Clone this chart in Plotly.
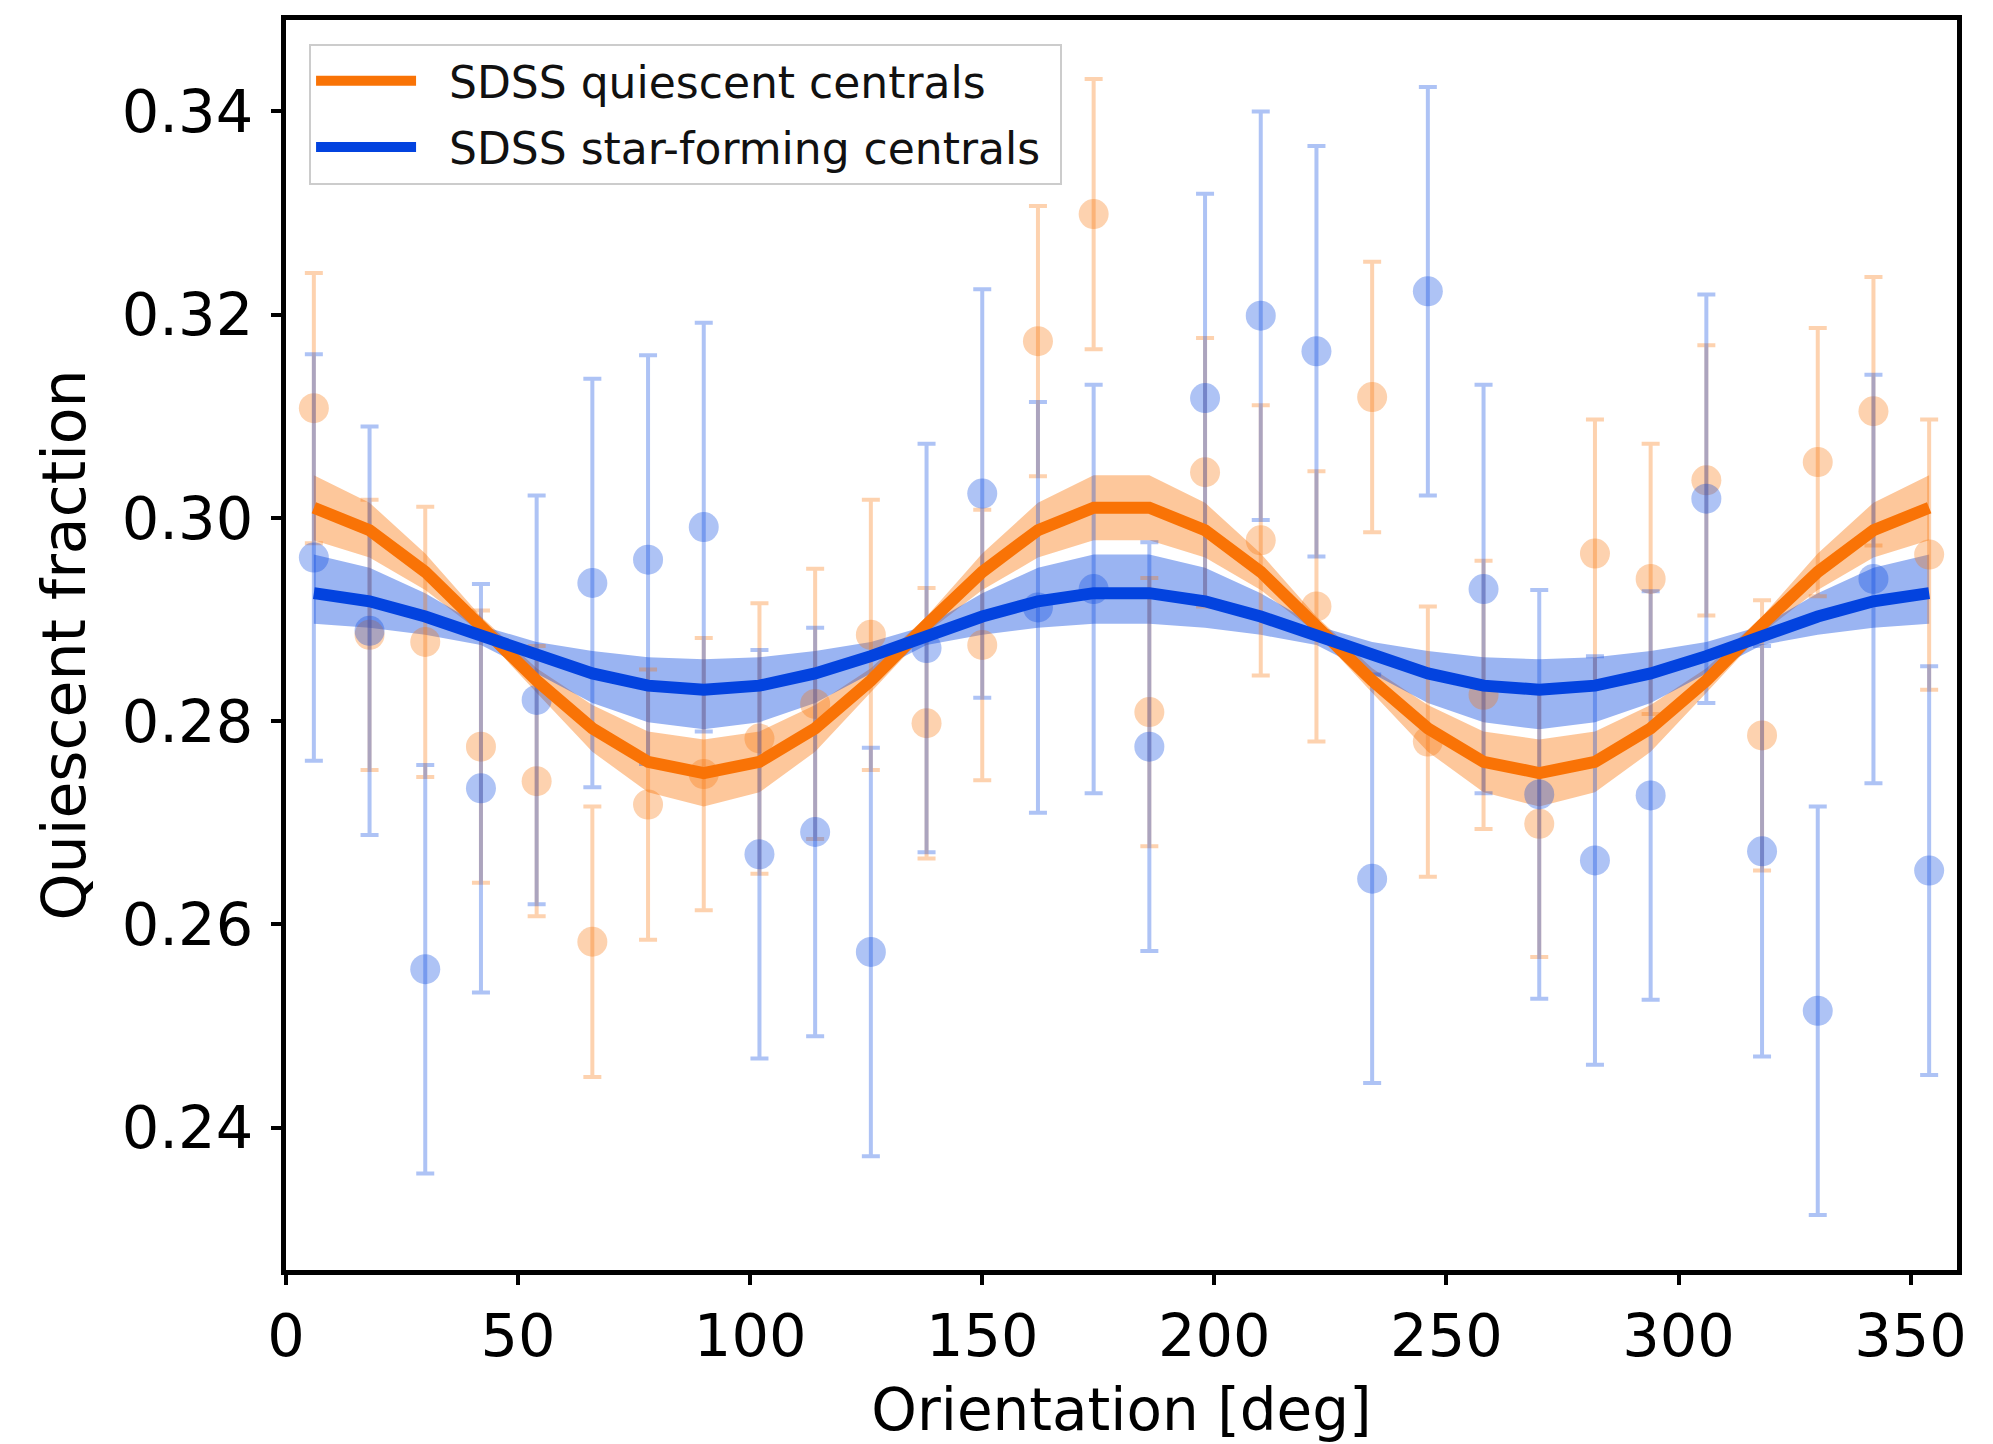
import plotly.graph_objects as go

# ---------------- data ----------------
orientation = [6, 18, 30, 42, 54, 66, 78, 90, 102, 114, 126, 138, 150, 162, 174,
               186, 198, 210, 222, 234, 246, 258, 270, 282, 294, 306, 318, 330, 342, 354]

q_frac = [0.3108, 0.2885, 0.2878, 0.2775, 0.2741, 0.2583, 0.2718, 0.2748, 0.2783, 0.2817,
          0.2885, 0.2798, 0.2875, 0.3174, 0.3299, 0.2809, 0.3045, 0.2978, 0.2913, 0.3119,
          0.2780, 0.2826, 0.2699, 0.2965, 0.2940, 0.3037, 0.2786, 0.3055, 0.3105, 0.2964]
q_err = [0.0133, 0.0133, 0.0133, 0.0134, 0.0133, 0.0133, 0.0133, 0.0134, 0.0133, 0.0133,
         0.0133, 0.0133, 0.0133, 0.0133, 0.0133, 0.0132, 0.0132, 0.0133, 0.0133, 0.0133,
         0.0133, 0.0132, 0.0131, 0.0132, 0.0133, 0.0133, 0.0133, 0.0132, 0.0132, 0.0133]

sf_frac = [0.2961, 0.2889, 0.2556, 0.2734, 0.2821, 0.2936, 0.2959, 0.2991, 0.2669, 0.2691,
           0.2573, 0.2872, 0.3024, 0.2912, 0.2930, 0.2775, 0.3118, 0.3199, 0.3164, 0.2645,
           0.3223, 0.2930, 0.2728, 0.2663, 0.2727, 0.3019, 0.2672, 0.2515, 0.2940, 0.2653]
sf_err = [0.0200, 0.0201, 0.0201, 0.0201, 0.0201, 0.0201, 0.0201, 0.0201, 0.0201, 0.0201,
          0.0201, 0.0201, 0.0201, 0.0202, 0.0201, 0.0201, 0.0201, 0.0201, 0.0202, 0.0201,
          0.0201, 0.0201, 0.0201, 0.0201, 0.0201, 0.0201, 0.0202, 0.0201, 0.0201, 0.0201]

# fitted model curves and their uncertainty bands
q_fit = [0.3010, 0.2988, 0.2947, 0.2895, 0.2840, 0.2793, 0.2760, 0.2749, 0.2760, 0.2793,
         0.2840, 0.2895, 0.2947, 0.2988, 0.3010, 0.3010, 0.2988, 0.2947, 0.2895, 0.2840,
         0.2793, 0.2760, 0.2749, 0.2760, 0.2793, 0.2840, 0.2895, 0.2947, 0.2988, 0.3010]
q_hi = [0.3042, 0.3015, 0.2965, 0.2903, 0.2852, 0.2816, 0.2790, 0.2782, 0.2790, 0.2816,
        0.2852, 0.2903, 0.2965, 0.3015, 0.3042, 0.3042, 0.3015, 0.2965, 0.2903, 0.2852,
        0.2816, 0.2790, 0.2782, 0.2790, 0.2816, 0.2852, 0.2903, 0.2965, 0.3015, 0.3042]
q_lo = [0.2978, 0.2961, 0.2929, 0.2887, 0.2828, 0.2770, 0.2730, 0.2716, 0.2730, 0.2770,
        0.2828, 0.2887, 0.2929, 0.2961, 0.2978, 0.2978, 0.2961, 0.2929, 0.2887, 0.2828,
        0.2770, 0.2730, 0.2716, 0.2730, 0.2770, 0.2828, 0.2887, 0.2929, 0.2961, 0.2978]

sf_fit = [0.2926, 0.2918, 0.2903, 0.2884, 0.2864, 0.2847, 0.2835, 0.2831, 0.2835, 0.2847,
          0.2864, 0.2884, 0.2903, 0.2918, 0.2926, 0.2926, 0.2918, 0.2903, 0.2884, 0.2864,
          0.2847, 0.2835, 0.2831, 0.2835, 0.2847, 0.2864, 0.2884, 0.2903, 0.2918, 0.2926]
sf_hi = [0.2964, 0.2951, 0.2926, 0.2894, 0.2878, 0.2869, 0.2863, 0.2861, 0.2863, 0.2869,
         0.2878, 0.2894, 0.2926, 0.2951, 0.2964, 0.2964, 0.2951, 0.2926, 0.2894, 0.2878,
         0.2869, 0.2863, 0.2861, 0.2863, 0.2869, 0.2878, 0.2894, 0.2926, 0.2951, 0.2964]
sf_lo = [0.2896, 0.2892, 0.2885, 0.2875, 0.2847, 0.2818, 0.2799, 0.2792, 0.2799, 0.2818,
         0.2847, 0.2875, 0.2885, 0.2892, 0.2896, 0.2896, 0.2892, 0.2885, 0.2875, 0.2847,
         0.2818, 0.2799, 0.2792, 0.2799, 0.2818, 0.2847, 0.2875, 0.2885, 0.2892, 0.2896]

x_ticks = [0, 50, 100, 150, 200, 250, 300, 350]
y_ticks = [0.24, 0.26, 0.28, 0.30, 0.32, 0.34]

labels = ["SDSS quiescent centrals", "SDSS star-forming centrals"]

# ---------------- style ----------------
ORANGE = "#f97306"
BLUE = "#0343df"
FONT = "DejaVu Sans"
GAP = "\u00a0\u00a0"

def rgba(hex_color, a):
    h = hex_color.lstrip("#")
    return "rgba(%d,%d,%d,%.3f)" % (int(h[0:2], 16), int(h[2:4], 16), int(h[4:6], 16), a)

fig = go.Figure()

# bands
for lo, hi, col in [(q_lo, q_hi, ORANGE), (sf_lo, sf_hi, BLUE)]:
    fig.add_trace(go.Scatter(
        x=orientation + orientation[::-1],
        y=hi + lo[::-1],
        fill="toself", fillcolor=rgba(col, 0.40),
        line=dict(width=0), mode="lines", showlegend=False, hoverinfo="skip"))

# data points with error bars
for vals, errs, col in [(q_frac, q_err, ORANGE), (sf_frac, sf_err, BLUE)]:
    fig.add_trace(go.Scatter(
        x=orientation, y=vals, mode="markers",
        marker=dict(size=30, color=rgba(col, 0.32), line=dict(width=0)),
        error_y=dict(type="data", array=errs, visible=True,
                     color=rgba(col, 0.32), thickness=4, width=9),
        showlegend=False))

# fitted curves
for fit, col, name, grp in [(q_fit, ORANGE, labels[0], "q"), (sf_fit, BLUE, labels[1], "sf")]:
    fig.add_trace(go.Scatter(
        x=orientation, y=fit, mode="lines", name=GAP + name + "\u00a0", legendgroup=grp,
        line=dict(color=col, width=12)))

axis_common = dict(
    showline=True, linecolor="black", linewidth=5, mirror=True,
    ticks="outside", ticklen=10, tickwidth=4, tickcolor="black",
    showgrid=False, zeroline=False,
    tickfont=dict(family=FONT, size=59, color="black"),
)

fig.update_xaxes(range=[0, 360], tickvals=x_ticks, ticktext=[str(v) for v in x_ticks],
                 title=dict(text="Orientation [deg]", font=dict(family=FONT, size=58, color="black"),
                            standoff=22),
                 ticklabelstandoff=0, **axis_common)
fig.update_yaxes(range=[0.2260, 0.3490], tickvals=y_ticks, ticktext=["%.2f" % v for v in y_ticks],
                 title=dict(text="Quiescent fraction", font=dict(family=FONT, size=60, color="black"),
                            standoff=18),
                 ticklabelstandoff=6, **axis_common)

fig.update_layout(
    width=1993, height=1444,
    margin=dict(l=286, r=36, t=20, b=166),
    paper_bgcolor="white", plot_bgcolor="white",
    font=dict(family=FONT, color="black"),
    legend=dict(x=0.0138, y=0.981, xanchor="left", yanchor="top",
                bgcolor="rgba(255,255,255,0.85)", bordercolor="#cccccc", borderwidth=2,
                font=dict(family=FONT, size=44, color="#111111"),
                itemwidth=100, tracegroupgap=6),
)

fig.write_html("out.html")
